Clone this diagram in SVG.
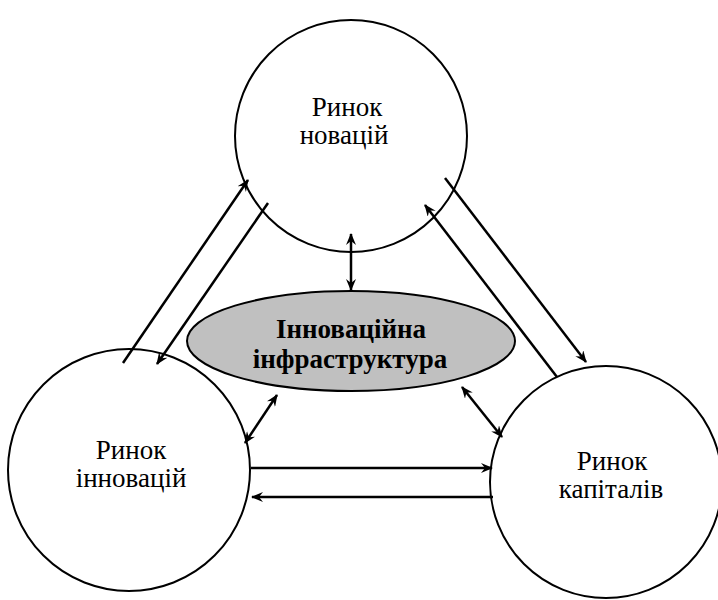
<svg xmlns="http://www.w3.org/2000/svg" width="718" height="600" viewBox="0 0 718 600">
<defs>
<marker id="ah" viewBox="0 0 12 10" refX="11" refY="5" markerWidth="12" markerHeight="10" markerUnits="userSpaceOnUse" orient="auto-start-reverse">
<path d="M0,0 L12,5 L0,10 L4,5 z" fill="#000"/>
</marker>
</defs>
<style>
.node{fill:#fff;stroke:#000;stroke-width:2}
.core{fill:#c0c0c0;stroke:#000;stroke-width:2}
.lbl{font-size:27px;fill:#000}
.blbl{font-size:27px;font-weight:bold;fill:#000}
.c line{stroke:#000;stroke-width:2.5;fill:none}
</style>
<rect width="718" height="600" fill="#fff"/>
<g id="node-novacii">
<circle class="node" cx="351" cy="136" r="116"/>
<text class="lbl" font-family="Liberation Serif, DejaVu Serif, serif" x="347" y="116" text-anchor="middle">Ринок</text>
<text class="lbl" font-family="Liberation Serif, DejaVu Serif, serif" x="344" y="144" text-anchor="middle">новацій</text>
</g>
<g id="node-innovacii">
<circle class="node" cx="129" cy="470" r="121"/>
<text class="lbl" font-family="Liberation Serif, DejaVu Serif, serif" x="131" y="459" text-anchor="middle">Ринок</text>
<text class="lbl" font-family="Liberation Serif, DejaVu Serif, serif" x="131" y="487" text-anchor="middle">інновацій</text>
</g>
<g id="node-kapitaliv">
<circle class="node" cx="606" cy="482" r="116"/>
<text class="lbl" font-family="Liberation Serif, DejaVu Serif, serif" x="612" y="470" text-anchor="middle">Ринок</text>
<text class="lbl" font-family="Liberation Serif, DejaVu Serif, serif" x="611" y="498" text-anchor="middle">капіталів</text>
</g>
<g id="node-infra">
<ellipse class="core" cx="351" cy="341" rx="164" ry="50"/>
<text class="blbl" font-family="Liberation Serif, DejaVu Serif, serif" x="351" y="338" text-anchor="middle">Інноваційна</text>
<text class="blbl" font-family="Liberation Serif, DejaVu Serif, serif" x="350" y="368" text-anchor="middle">інфраструктура</text>
</g>
<g id="connectors" class="c">
<line x1="123" y1="363" x2="248" y2="180" marker-end="url(#ah)"/>
<line x1="268" y1="203" x2="157" y2="364" marker-end="url(#ah)"/>
<line x1="445" y1="178" x2="586" y2="362" marker-end="url(#ah)"/>
<line x1="557" y1="377" x2="425" y2="205" marker-end="url(#ah)"/>
<line x1="351" y1="234" x2="351" y2="290" marker-start="url(#ah)" marker-end="url(#ah)"/>
<line x1="277" y1="395" x2="245" y2="443" marker-start="url(#ah)" marker-end="url(#ah)"/>
<line x1="462" y1="387" x2="502" y2="437" marker-start="url(#ah)" marker-end="url(#ah)"/>
<line x1="251" y1="468" x2="492" y2="468" marker-end="url(#ah)"/>
<line x1="493" y1="497" x2="252" y2="497" marker-end="url(#ah)"/>
</g>
</svg>
